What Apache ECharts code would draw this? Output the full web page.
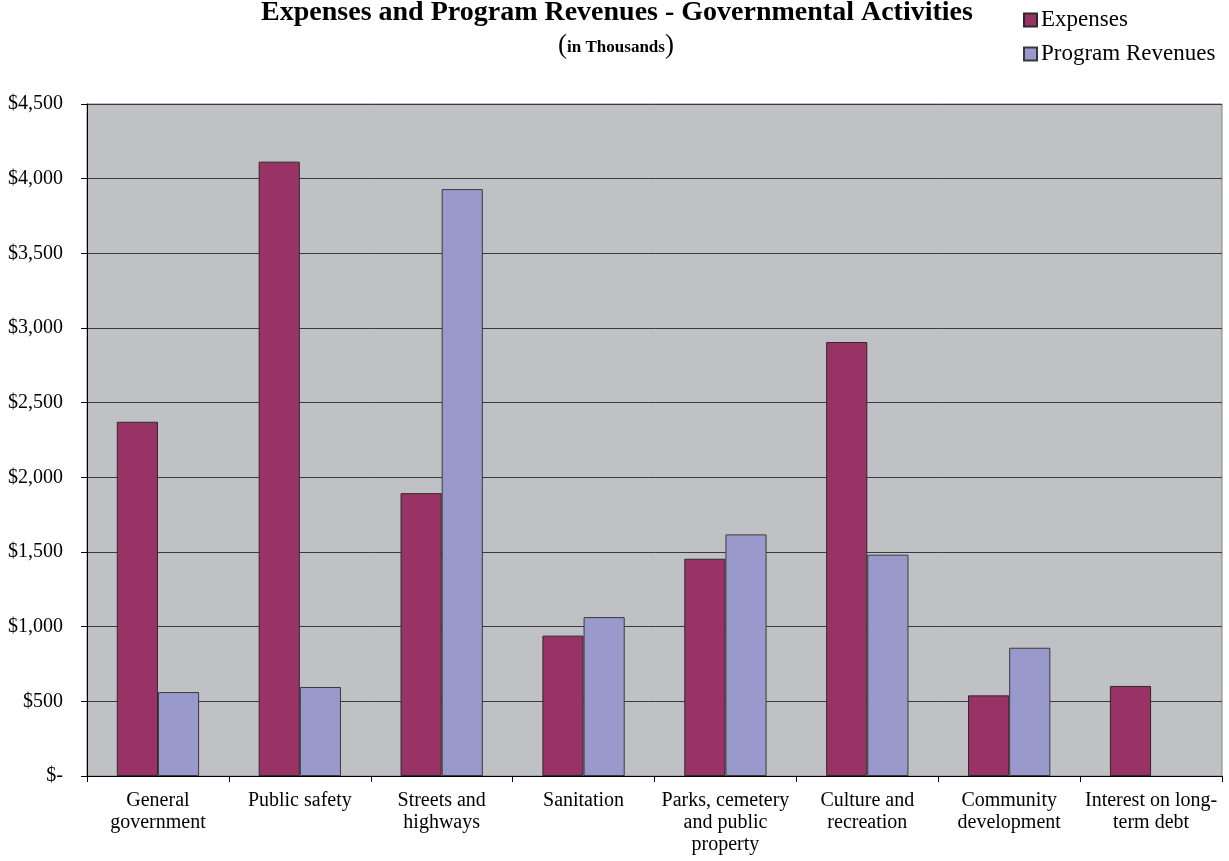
<!DOCTYPE html>
<html>
<head>
<meta charset="utf-8">
<script src="https://cdn.jsdelivr.net/npm/echarts@6/dist/echarts.min.js"></script>
<style>
html,body{margin:0;padding:0;background:#fff;}
#chart{width:1229px;height:861px;}
</style>
</head>
<body>
<div id="chart"></div>
<script>
const categories = [
  "General\ngovernment",
  "Public safety",
  "Streets and\nhighways",
  "Sanitation",
  "Parks, cemetery\nand public\nproperty",
  "Culture and\nrecreation",
  "Community\ndevelopment",
  "Interest on long-\nterm debt"
];
const expenses = [2372, 4114, 1894, 940, 1455, 2906, 540, 603];
const programRevenues = [562, 596, 3930, 1064, 1618, 1482, 859, null];
const yTicks = { min: 0, max: 4500, interval: 500 };

const serif = '"Liberation Serif", "Times New Roman", serif';
const chart = echarts.init(document.getElementById('chart'), null, { renderer: 'canvas' });

function fmt(v) {
  if (v === 0) return '$-';
  return '$' + v.toLocaleString('en-US');
}

chart.setOption({
  animation: false,
  backgroundColor: '#ffffff',
  title: [
    {
      text: 'Expenses and Program Revenues - Governmental Activities',
      left: 612, top: -7, textAlign: 'center',
      textStyle: { fontFamily: serif, fontWeight: 'bold', fontSize: 28, lineHeight: 30, color: '#000' }
    },
    {
      text: '{p|(}{t|in Thousands}{p|)}',
      left: 611, top: 26, textAlign: 'center',
      textStyle: {
        rich: {
          p: { fontFamily: serif, fontWeight: 'normal', fontSize: 27, lineHeight: 30, color: '#000' },
          t: { fontFamily: serif, fontWeight: 'bold', fontSize: 17, lineHeight: 30, color: '#000', padding: [4, 0, 0, 0] }
        }
      }
    }
  ],
  legend: {
    orient: 'vertical',
    left: 1023, top: 7,
    padding: 0,
    itemWidth: 13, itemHeight: 13,
    itemGap: 8,
    icon: 'rect',
    textStyle: { fontFamily: serif, fontSize: 23, lineHeight: 26, color: '#000', padding: [0, 0, 0, -1] },
    data: ['Expenses', 'Program Revenues']
  },
  grid: {
    left: 87, right: 7, top: 104, bottom: 85,
    show: true, backgroundColor: '#C0C1C5', borderColor: '#808080', borderWidth: 1,
    containLabel: false
  },
  xAxis: {
    type: 'category',
    data: categories,
    axisLine: { lineStyle: { color: '#000', width: 1 } },
    axisTick: { show: true, length: 6, lineStyle: { color: '#000' } },
    axisLabel: {
      fontFamily: serif, fontSize: 20, color: '#000', lineHeight: 22, margin: 14,
      interval: 0, align: 'center'
    }
  },
  yAxis: {
    type: 'value',
    min: yTicks.min, max: yTicks.max, interval: yTicks.interval,
    axisLine: { show: true, lineStyle: { color: '#000', width: 1 } },
    axisTick: { show: true, length: 6, lineStyle: { color: '#000' } },
    splitLine: { show: true, lineStyle: { color: '#3a3a3a', width: 1 } },
    axisLabel: { fontFamily: serif, fontSize: 20, color: '#000', margin: 24, formatter: fmt }
  },
  series: [
    {
      name: 'Expenses', type: 'bar', data: expenses,
      barWidth: '29%', barGap: '0%',
      itemStyle: { color: '#993366', borderColor: '#2a2a2a', borderWidth: 1 }
    },
    {
      name: 'Program Revenues', type: 'bar', data: programRevenues,
      barWidth: '29%', barGap: '0%',
      itemStyle: { color: '#9999CC', borderColor: '#3a3a3a', borderWidth: 1 }
    }
  ]
});
</script>
</body>
</html>
